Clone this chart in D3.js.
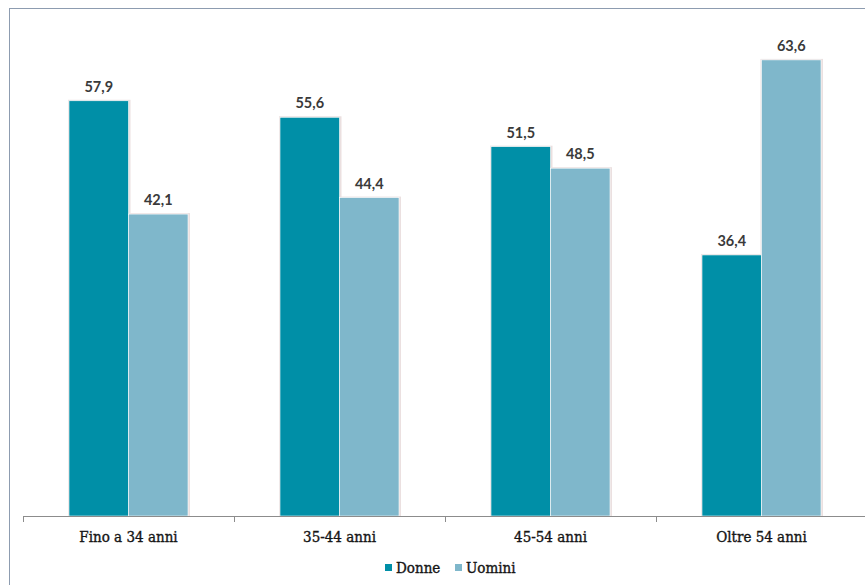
<!DOCTYPE html>
<html>
<head>
<meta charset="utf-8">
<script src="https://cdn.jsdelivr.net/npm/d3@7"></script>
<style>
body { margin:0; padding:0; background:#fff; }
</style>
</head>
<body>
<script>
// data
var categories = ["Fino a 34 anni", "35-44 anni", "45-54 anni", "Oltre 54 anni"] ;
var seriesNames = ["Donne", "Uomini"] ;
var donne = [57.9, 55.6, 51.5, 36.4] ;
var uomini = [42.1, 44.4, 48.5, 63.6] ;
var colors = ["#008fa7", "#7fb7cb"] ;

var width = 865, height = 585 ;

var svg = d3.select("body").append("svg")
    .attr("width", width)
    .attr("height", height) ;

// outer frame (cut on the right and bottom)
svg.append("rect")
    .attr("x", 9.5)
    .attr("y", 8.5)
    .attr("width", 900)
    .attr("height", 600)
    .attr("fill", "none")
    .attr("stroke", "#8d9cb0")
    .attr("stroke-width", 1) ;

var x0 = d3.scaleBand()
    .domain(categories)
    .range([23, 867])
    .paddingInner(0)
    .paddingOuter(0) ;

var x1 = d3.scaleBand()
    .domain(seriesNames)
    .range([0, x0.bandwidth()])
    .paddingInner(0)
    .paddingOuter(0.773) ;

var y = d3.scaleLinear()
    .domain([0, 70])
    .range([516, 14]) ;

var rows = categories.map(function(c, i) {
    return { cat: c, vals: [ {s: seriesNames[0], v: donne[i]}, {s: seriesNames[1], v: uomini[i]} ] } ;
}) ;

var groups = svg.selectAll("g.grp")
    .data(rows)
    .enter().append("g")
    .attr("class", "grp")
    .attr("transform", function(d) { return "translate(" + x0(d.cat) + ",0)" ; }) ;

// faint shadow behind bars
groups.selectAll("rect.shadow")
    .data(function(d) { return d.vals ; })
    .enter().append("rect")
    .attr("class", "shadow")
    .attr("x", function(d) { return x1(d.s) - 1 ; })
    .attr("y", function(d) { return y(d.v) - 1 ; })
    .attr("width", x1.bandwidth() + 3)
    .attr("height", function(d) { return y(0) - y(d.v) + 1 ; })
    .attr("fill", "#ebe0e0") ;

groups.selectAll("rect.bar")
    .data(function(d) { return d.vals ; })
    .enter().append("rect")
    .attr("class", "bar")
    .attr("x", function(d) { return x1(d.s) ; })
    .attr("y", function(d) { return y(d.v) ; })
    .attr("width", x1.bandwidth())
    .attr("height", function(d) { return y(0) - y(d.v) ; })
    .attr("fill", function(d, i) { return colors[i] ; })
    .attr("stroke", "#ffffff")
    .attr("stroke-width", 0.6) ;

groups.selectAll("text.val")
    .data(function(d) { return d.vals ; })
    .enter().append("text")
    .attr("class", "val")
    .attr("x", function(d) { return x1(d.s) + x1.bandwidth()/2 ; })
    .attr("y", function(d) { return y(d.v) - 9 ; })
    .attr("text-anchor", "middle")
    .attr("font-family", "Lato, 'Open Sans', sans-serif")
    .attr("font-weight", "bold")
    .attr("font-size", "14.5px")
    .attr("fill", "#3a3a3a")
    .text(function(d) { return d3.format(".1f")(d.v).replace(".", ",") ; }) ;

// x axis
var xAxis = d3.axisBottom(x0).tickSize(0).tickPadding(0) ;
var ax = svg.append("g")
    .attr("transform", "translate(0," + y(0) + ")")
    .call(xAxis) ;
ax.select(".domain").remove() ;
ax.append("line")
    .attr("x1", 23).attr("x2", 867)
    .attr("y1", 0.5).attr("y2", 0.5)
    .attr("stroke", "#8c8c8c") ;
ax.selectAll(".bnd")
    .data(categories.concat(["end"]))
    .enter().append("line")
    .attr("x1", function(d) { return d == "end" ? 867 : x0(d) + 0.5 ; })
    .attr("x2", function(d) { return d == "end" ? 867 : x0(d) + 0.5 ; })
    .attr("y1", 0).attr("y2", 6)
    .attr("stroke", "#8c8c8c") ;
ax.selectAll(".tick text")
    .attr("y", 26)
    .attr("dy", 0)
    .attr("font-family", "'DejaVu Serif Condensed', 'Liberation Serif', serif")
    .attr("font-size", "15px")
    .attr("fill", "#151515")
    .attr("stroke", "#151515")
    .attr("stroke-width", 0.35) ;

// legend
var legend = svg.append("g") ;
var legX = [385, 455] ;
seriesNames.forEach(function(s, i) {
    legend.append("rect")
        .attr("x", legX[i])
        .attr("y", 564)
        .attr("width", 7)
        .attr("height", 7)
        .attr("fill", colors[i]) ;
    legend.append("text")
        .attr("x", legX[i] + 11)
        .attr("y", 573)
        .attr("font-family", "'DejaVu Serif Condensed', 'Liberation Serif', serif")
        .attr("font-size", "15px")
        .attr("fill", "#151515")
        .attr("stroke", "#151515")
        .attr("stroke-width", 0.35)
        .text(s) ;
}) ;
</script>
</body>
</html>
